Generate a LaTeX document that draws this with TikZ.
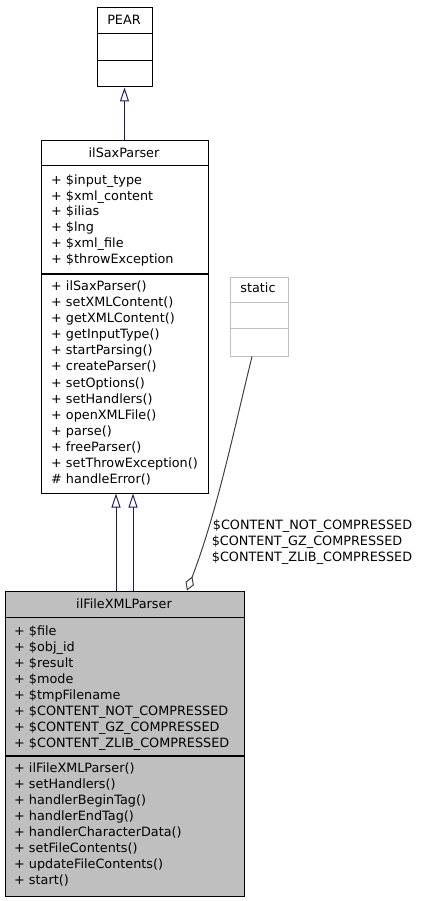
\documentclass[tikz,border=0pt]{standalone}
\usepackage{fontspec}
\setmainfont{DejaVu Sans}
\usetikzlibrary{arrows.meta}
\definecolor{dxblue}{HTML}{191970}
\definecolor{dxgray}{HTML}{404040}
\definecolor{dxfill}{HTML}{BFBFBF}
\definecolor{dxframe}{HTML}{BFBFBF}
\tikzstyle{cls}=[draw, line width=1pt, inner sep=0, anchor=north west]
\tikzstyle{title}=[anchor=base, inner sep=0, font=\fontsize{12.8}{16}\selectfont]
\tikzstyle{member}=[anchor=base west, inner sep=0, font=\fontsize{12.8}{16}\selectfont]
\tikzstyle{inherit}=[dxblue, line width=1pt, -{Triangle[open, length=14pt, width=9pt]}]
\tikzstyle{usage}=[dxgray, line width=1pt, -{Diamond[open, length=15pt, width=9pt]}]

\begin{document}
\begin{tikzpicture}[x=1pt, y=-1pt]

\useasboundingbox (0, 0) rectangle (420, 901);

% PEAR
\node [cls, minimum width=55pt, minimum height=79pt] (pear) at (96.5, 7.5) {};
\draw [line width=1pt] (96.5, 33.5) -- (151.5, 33.5);
\draw [line width=1.3pt] (96.5, 60.5) -- (151.5, 60.5);
\node [title] (pearT) at (124, 25) {PEAR};

% ilSaxParser
\node [cls, minimum width=167pt, minimum height=352pt] (sax) at (40.5, 140.5) {};
\draw [line width=1pt] (40.5, 165.5) -- (207.5, 165.5);
\draw [line width=1.3pt] (40.5, 274) -- (207.5, 274);
\node [title] (saxT) at (124, 157.3) {ilSaxParser};

\node [member] (saxA1) at (51, 184.3) {+ \$input\_type};
\node [member] (saxA2) at (51, 200.1) {+ \$xml\_content};
\node [member] (saxA3) at (51, 215.9) {+ \$ilias};
\node [member] (saxA4) at (51, 231.7) {+ \$lng};
\node [member] (saxA5) at (51, 247.5) {+ \$xml\_file};
\node [member] (saxA6) at (51, 263.3) {+ \$throwException};

\node [member] (saxM1)  at (51, 290.7) {+ ilSaxParser()};
\node [member] (saxM2)  at (51, 306.7) {+ setXMLContent()};
\node [member] (saxM3)  at (51, 322.8) {+ getXMLContent()};
\node [member] (saxM4)  at (51, 338.8) {+ getInputType()};
\node [member] (saxM5)  at (51, 354.9) {+ startParsing()};
\node [member] (saxM6)  at (51, 370.9) {+ createParser()};
\node [member] (saxM7)  at (51, 387.0) {+ setOptions()};
\node [member] (saxM8)  at (51, 403.0) {+ setHandlers()};
\node [member] (saxM9)  at (51, 419.1) {+ openXMLFile()};
\node [member] (saxM10) at (51, 435.1) {+ parse()};
\node [member] (saxM11) at (51, 451.2) {+ freeParser()};
\node [member] (saxM12) at (51, 467.2) {+ setThrowException()};
\node [member] (saxM13) at (51, 483.3) {\# handleError()};

% static
\node [cls, draw=dxframe, minimum width=58pt, minimum height=79pt] (static) at (229.5, 276.5) {};
\draw [dxframe, line width=1pt] (229.5, 302.5) -- (287.5, 302.5);
\draw [dxframe, line width=1.3pt] (229.5, 328.5) -- (287.5, 328.5);
\node [title] (staticT) at (258, 292.3) {static};

% ilFileXMLParser
\node [cls, fill=dxfill, minimum width=239pt, minimum height=305pt] (file) at (4.5, 590.5) {};
\draw [line width=1pt] (4.5, 617.5) -- (243.5, 617.5);
\draw [line width=1.3pt] (4.5, 756) -- (243.5, 756);
\node [title] (fileT) at (124, 608) {ilFileXMLParser};

\node [member] (fileA1) at (14, 635) {+ \$file};
\node [member] (fileA2) at (14, 651) {+ \$obj\_id};
\node [member] (fileA3) at (14, 667) {+ \$result};
\node [member] (fileA4) at (14, 683) {+ \$mode};
\node [member] (fileA5) at (14, 699) {+ \$tmpFilename};
\node [member] (fileA6) at (14, 715) {+ \$CONTENT\_NOT\_COMPRESSED};
\node [member] (fileA7) at (14, 731) {+ \$CONTENT\_GZ\_COMPRESSED};
\node [member] (fileA8) at (14, 747) {+ \$CONTENT\_ZLIB\_COMPRESSED};

\node [member] (fileM1) at (14, 772.7) {+ ilFileXMLParser()};
\node [member] (fileM2) at (14, 788.7) {+ setHandlers()};
\node [member] (fileM3) at (14, 804.7) {+ handlerBeginTag()};
\node [member] (fileM4) at (14, 820.7) {+ handlerEndTag()};
\node [member] (fileM5) at (14, 836.7) {+ handlerCharacterData()};
\node [member] (fileM6) at (14, 852.7) {+ setFileContents()};
\node [member] (fileM7) at (14, 868.7) {+ updateFileContents()};
\node [member] (fileM8) at (14, 884.7) {+ start()};

% edges
\draw [inherit] (sax) -- (pear);
\draw [inherit] ([xshift=-8.5pt]file.north) -- ([xshift=-8.5pt]sax.south);
\draw [inherit] ([xshift=8.5pt]file.north) -- ([xshift=8.5pt]sax.south);

\draw [usage] ([xshift=-7pt]static.south) .. controls (233, 434) and (217, 512) .. ([xshift=62.5pt]file.north);

\node [title] (lab1) at (312.5, 529) {\$CONTENT\_NOT\_COMPRESSED};
\node [title] (lab2) at (307, 545) {\$CONTENT\_GZ\_COMPRESSED};
\node [title] (lab3) at (312, 561) {\$CONTENT\_ZLIB\_COMPRESSED};

\end{tikzpicture}
\end{document}
